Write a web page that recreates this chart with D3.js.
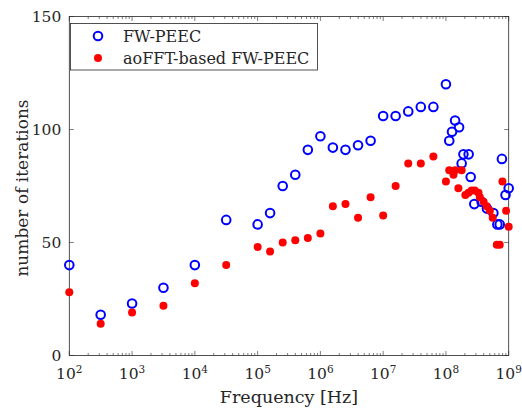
<!DOCTYPE html>
<html>
<head>
<meta charset="utf-8">
<script src="https://cdn.jsdelivr.net/npm/d3@7"></script>
<style>
  body { margin: 0; background: #fff; }
  text { font-family: "DejaVu Serif", serif; fill: #262626; }
</style>
</head>
<body>
<script>
var w = 522, h = 411;
var margin = {left: 69.3, right: 13.3, top: 16.5, bottom: 55.5};

// FW-PEEC
var freqFw = [1e2, 3.16e2, 1e3, 3.16e3, 1e4, 3.16e4, 1e5, 1.58e5, 2.51e5, 3.98e5, 6.31e5,
  1e6, 1.58e6, 2.51e6, 3.98e6, 6.31e6, 1e7, 1.58e7, 2.51e7, 3.98e7, 6.31e7,
  1e8, 1.13e8, 1.25e8, 1.4e8, 1.62e8, 1.78e8, 1.9e8, 2.3e8, 2.48e8, 2.83e8, 3.7e8,
  4.5e8, 5.7e8, 6.6e8, 7.2e8, 7.8e8, 8.9e8, 1e9];
var iterFw = [40, 18, 23, 30, 40, 60, 58, 63, 75, 80, 91,
  97, 92, 91, 93, 95, 106, 106, 108, 110, 110,
  120, 95, 99, 104, 101, 85, 89, 89, 79, 67, 68,
  65, 63, 58, 58, 87, 71, 74];

// aoFFT-based FW-PEEC
var freqAo = [1e2, 3.16e2, 1e3, 3.16e3, 1e4, 3.16e4, 1e5, 1.58e5, 2.51e5, 3.98e5, 6.31e5,
  1e6, 1.58e6, 2.51e6, 3.98e6, 6.31e6, 1e7, 1.58e7, 2.51e7, 3.98e7, 6.31e7,
  1e8, 1.13e8, 1.32e8, 1.4e8, 1.58e8, 1.78e8, 2.04e8, 2.29e8, 2.57e8, 2.88e8, 3.3e8,
  3.47e8, 3.98e8, 4.47e8, 5.01e8, 5.56e8, 6.46e8, 7.2e8, 7.94e8, 9.1e8, 1e9];
var iterAo = [28, 14, 19, 22, 32, 40, 48, 46, 50, 51, 52,
  54, 66, 67, 61, 70, 62, 75, 85, 85, 88,
  77, 82, 80, 82, 74, 82, 71, 72, 73, 73, 72,
  70, 68, 66, 64, 61, 49, 49, 77, 64, 57];

var xTicks = [1e2, 1e3, 1e4, 1e5, 1e6, 1e7, 1e8, 1e9];
var yTicks = [0, 50, 100, 150];
var seriesNames = ["FW-PEEC", "aoFFT-based FW-PEEC"];

var svg = d3.select("body").append("svg")
  .attr("width", w).attr("height", h);

var x = d3.scaleLog().domain([1e2, 1e9]).range([margin.left, w - margin.right]);
var y = d3.scaleLinear().domain([0, 150]).range([h - margin.bottom, margin.top]);

var x0 = margin.left, x1 = w - margin.right, y0 = h - margin.bottom, y1 = margin.top;
var axisColor = "#262626";

// minor x ticks
var minor = [];
for (var e = 2; e < 9; e++) for (var m = 2; m <= 9; m++) minor.push(m * Math.pow(10, e));

var g = svg.append("g");
minor.forEach(function(v) {
  g.append("line").attr("x1", x(v)).attr("x2", x(v)).attr("y1", y0).attr("y2", y0 - 2.5)
    .attr("stroke", axisColor).attr("stroke-width", 0.6);
  g.append("line").attr("x1", x(v)).attr("x2", x(v)).attr("y1", y1).attr("y2", y1 + 2.5)
    .attr("stroke", axisColor).attr("stroke-width", 0.6);
});
xTicks.forEach(function(v) {
  g.append("line").attr("x1", x(v)).attr("x2", x(v)).attr("y1", y0).attr("y2", y0 - 4.5)
    .attr("stroke", axisColor).attr("stroke-width", 0.6);
  g.append("line").attr("x1", x(v)).attr("x2", x(v)).attr("y1", y1).attr("y2", y1 + 4.5)
    .attr("stroke", axisColor).attr("stroke-width", 0.6);
  var t = g.append("text").attr("x", x(v)).attr("y", y0 + 23.5)
    .attr("text-anchor", "middle").attr("font-size", 15.5);
  t.append("tspan").text("10");
  t.append("tspan").attr("dy", -6.5).attr("font-size", 10.5).text(Math.round(Math.log10(v)));
});
yTicks.forEach(function(v) {
  g.append("line").attr("x1", x0).attr("x2", x0 + 4.5).attr("y1", y(v)).attr("y2", y(v))
    .attr("stroke", axisColor).attr("stroke-width", 0.6);
  g.append("line").attr("x1", x1).attr("x2", x1 - 4.5).attr("y1", y(v)).attr("y2", y(v))
    .attr("stroke", axisColor).attr("stroke-width", 0.6);
  g.append("text").attr("x", x0 - 8).attr("y", y(v) + 5)
    .attr("text-anchor", "end").attr("font-size", 15.5).text(v);
});

// box
g.append("rect").attr("x", x0).attr("y", y1).attr("width", x1 - x0).attr("height", y0 - y1)
  .attr("fill", "none").attr("stroke", axisColor).attr("stroke-width", 0.8);

// labels
svg.append("text").attr("x", 289).attr("y", 403)
  .attr("text-anchor", "middle").attr("font-size", 17.5).text("Frequency [Hz]");
svg.append("text").attr("transform", "translate(27.5,188) rotate(-90)")
  .attr("text-anchor", "middle").attr("font-size", 17).text("number of iterations");

// points
svg.append("g").selectAll("circle")
  .data(freqFw.map(function(f, i) { return [f, iterFw[i]]; }))
  .enter().append("circle")
  .attr("cx", function(d) { return x(d[0]); })
  .attr("cy", function(d) { return y(d[1]); })
  .attr("r", 4.3)
  .attr("fill", "none").attr("stroke", "#0000ff").attr("stroke-width", 2);

svg.append("g").selectAll("circle")
  .data(freqAo.map(function(f, i) { return [f, iterAo[i]]; }))
  .enter().append("circle")
  .attr("cx", function(d) { return x(d[0]); })
  .attr("cy", function(d) { return y(d[1]); })
  .attr("r", 4)
  .attr("fill", "#ff0000");

// legend
var lg = svg.append("g");
lg.append("rect").attr("x", 70.5).attr("y", 23.5).attr("width", 247).attr("height", 46.5)
  .attr("fill", "#fff").attr("stroke", axisColor).attr("stroke-width", 0.8);
lg.append("circle").attr("cx", 98).attr("cy", 36).attr("r", 4.3)
  .attr("fill", "none").attr("stroke", "#0000ff").attr("stroke-width", 2);
lg.append("circle").attr("cx", 98).attr("cy", 58).attr("r", 4).attr("fill", "#ff0000");
lg.append("text").attr("x", 123).attr("y", 42).attr("font-size", 16).text(seriesNames[0]);
lg.append("text").attr("x", 123).attr("y", 64).attr("font-size", 16).text(seriesNames[1]);
</script>
</body>
</html>
